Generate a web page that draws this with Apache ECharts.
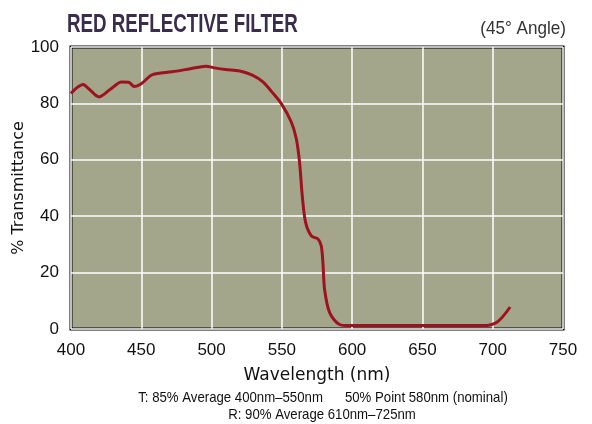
<!DOCTYPE html>
<html><head><meta charset="utf-8">
<script src="https://cdn.jsdelivr.net/npm/echarts@6/dist/echarts.min.js"></script>
<style>html,body{margin:0;padding:0;background:#fff}#c{width:592px;height:424px}</style>
</head><body><div id="c"></div>
<script>
const titleText = 'RED REFLECTIVE FILTER';
const subtitleText = '(45° Angle)';
const xName = 'Wavelength (nm)';
const yName = '% Transmittance';
const noteLine1 = 'T: 85% Average 400nm–550nm      50% Point 580nm (nominal)';
const noteLine2 = 'R: 90% Average 610nm–725nm';
const xTicks = [400, 450, 500, 550, 600, 650, 700, 750];
const yTicks = [0, 20, 40, 60, 80, 100];
const wavelength = [400, 404, 408.6, 413, 420, 428, 436, 441, 445, 450, 458, 472, 485, 496, 502, 510, 520, 529, 536.5, 543, 549.6, 556.7, 560.3, 562.6, 564.5, 566.9, 571, 575.7, 578, 579.2, 580.4, 584, 591, 598, 650, 693, 703, 712.4];
const transmittance = [83.5, 85.5, 86.7, 85, 82.3, 85, 87.6, 87.5, 86, 87, 90.2, 91.2, 92.3, 93.2, 92.6, 92, 91.5, 90, 87.6, 84, 79.9, 73.4, 67.4, 59.1, 47.3, 37.8, 33, 31.9, 29.5, 23.6, 14, 5.8, 1.6, 1.2, 1.2, 1.2, 2.4, 7.8];

const sans = "'Liberation Sans', Arial, sans-serif";
const chart = echarts.init(document.getElementById('c'), null, {renderer: 'canvas'});
chart.setOption({
  animation: false,
  graphic: [
    {type: 'text', x: 67, y: 25, scaleX: 0.75, scaleY: 1.04, style: {text: titleText, font: 'bold 25px ' + sans, fill: '#3a2d4c', textAlign: 'left', textVerticalAlign: 'middle'}},
    {type: 'text', x: 566, y: 29, scaleX: 0.9, style: {text: subtitleText, font: '19px ' + sans, fill: '#333', textAlign: 'right', textVerticalAlign: 'middle'}},
    {type: 'text', x: 323, y: 398, scaleX: 0.88, style: {text: noteLine1, font: '15px ' + sans, fill: '#111', textAlign: 'center', textVerticalAlign: 'middle'}},
    {type: 'text', x: 322, y: 415, scaleX: 0.88, style: {text: noteLine2, font: '15px ' + sans, fill: '#111', textAlign: 'center', textVerticalAlign: 'middle'}}
  ],
  grid: {left: 71, top: 47, width: 492, height: 282, show: true, backgroundColor: '#a3a68b', borderColor: '#000', borderWidth: 3, outerBoundsMode: 'none', containLabel: false},
  xAxis: {
    type: 'value', min: xTicks[0], max: xTicks[xTicks.length - 1], interval: 50,
    name: xName, nameLocation: 'middle', nameGap: 38, nameMoveOverlap: false,
    nameTextStyle: {fontFamily: 'DejaVu Sans', fontSize: 17, color: '#111'},
    axisLine: {show: false}, axisTick: {show: false},
    axisLabel: {fontFamily: sans, fontSize: 17, color: '#111', margin: 13},
    splitLine: {show: true, lineStyle: {color: '#fff', width: 1.5}}
  },
  yAxis: {
    type: 'value', min: yTicks[0], max: yTicks[yTicks.length - 1], interval: 20,
    name: yName, nameLocation: 'middle', nameGap: 44, nameRotate: 90, nameMoveOverlap: false,
    nameTextStyle: {fontFamily: 'DejaVu Sans', fontSize: 16, color: '#111'},
    axisLine: {show: false}, axisTick: {show: false},
    axisLabel: {fontFamily: sans, fontSize: 17, color: '#111', margin: 12},
    splitLine: {show: true, lineStyle: {color: '#fff', width: 1.5}}
  },
  series: [{
    type: 'line', smooth: 0.3, symbol: 'none',
    lineStyle: {color: '#9e1220', width: 3},
    data: wavelength.map((w, i) => [w, transmittance[i]])
  }]
});
</script></body></html>
